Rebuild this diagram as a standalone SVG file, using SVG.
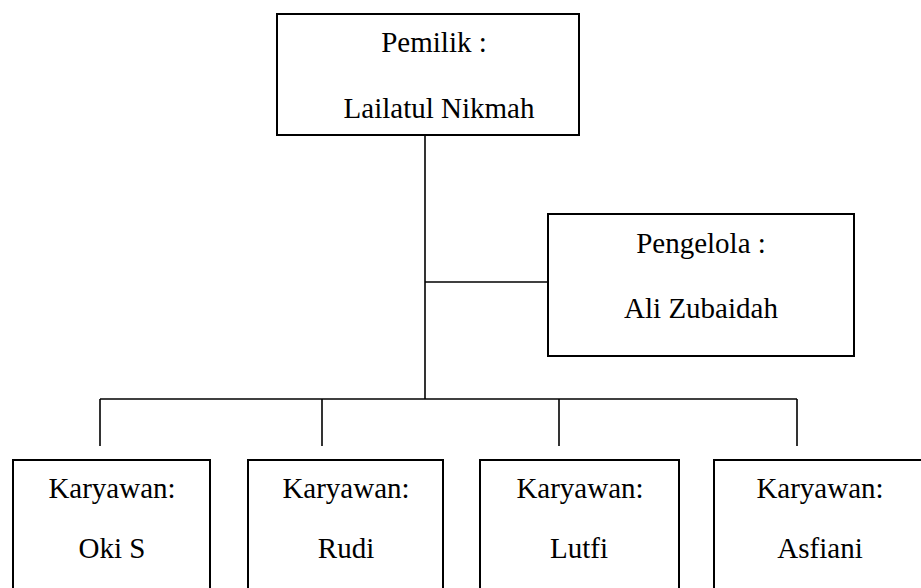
<svg xmlns="http://www.w3.org/2000/svg" width="921" height="588" viewBox="0 0 921 588">
<style>
.box{fill:#fff;stroke:#000;stroke-width:2}
.ln{fill:none;stroke:#000;stroke-width:1.6}
</style>
<rect width="921" height="588" fill="#fff"/>
<g id="connectors">
<line class="ln" x1="425" y1="135" x2="425" y2="399"/>
<line class="ln" x1="425" y1="282" x2="548" y2="282"/>
<line class="ln" x1="100" y1="399" x2="797" y2="399"/>
<line class="ln" x1="100" y1="399" x2="100" y2="446"/>
<line class="ln" x1="322" y1="399" x2="322" y2="446"/>
<line class="ln" x1="559" y1="399" x2="559" y2="446"/>
<line class="ln" x1="797" y1="399" x2="797" y2="446"/>
</g>
<g font-family="Liberation Serif, serif" font-size="29" text-anchor="middle" fill="#000">
<g id="pemilik">
<rect class="box" x="277" y="14" width="302" height="121"/>
<text x="434" y="52">Pemilik :</text>
<text x="439" y="118">Lailatul Nikmah</text>
</g>
<g id="pengelola">
<rect class="box" x="548" y="214" width="306" height="142"/>
<text x="701" y="253">Pengelola :</text>
<text x="701" y="318">Ali Zubaidah</text>
</g>
<g id="oki">
<rect class="box" x="13" y="460" width="197" height="140"/>
<text x="112" y="498">Karyawan:</text>
<text x="112" y="558">Oki S</text>
</g>
<g id="rudi">
<rect class="box" x="248" y="460" width="195" height="140"/>
<text x="346" y="498">Karyawan:</text>
<text x="346" y="558">Rudi</text>
</g>
<g id="lutfi">
<rect class="box" x="480" y="460" width="199" height="140"/>
<text x="580" y="498">Karyawan:</text>
<text x="579" y="558">Lutfi</text>
</g>
<g id="asfiani">
<rect class="box" x="714" y="460" width="220" height="140"/>
<text x="820" y="498">Karyawan:</text>
<text x="820" y="558">Asfiani</text>
</g>
</g>
</svg>
